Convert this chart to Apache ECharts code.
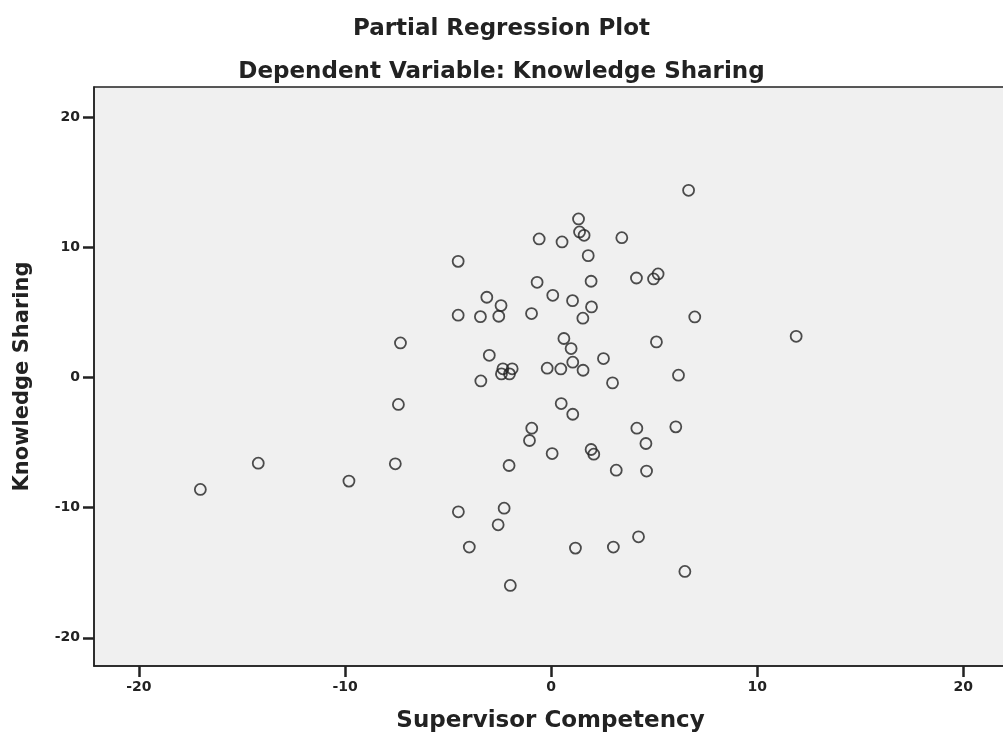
<!DOCTYPE html>
<html>
<head>
<meta charset="utf-8">
<title>Partial Regression Plot</title>
<script src="https://cdn.jsdelivr.net/npm/echarts@6/dist/echarts.min.js"></script>
<style>
  html, body {margin: 0; padding: 0; background: #fff; overflow: hidden;}
  #chart {width: 1003px; height: 736px;}
</style>
</head>
<body>
<div id="chart"></div>
<script>
  // values
  const supervisorCompetency = [
    6.67, 1.33, 1.38, 1.60, -0.58, 0.53, 3.43, -4.51, 1.80, -0.68,
    1.94, 4.14, 4.97, 5.19, -3.12, -2.43, 0.08, 1.04, 1.96, -4.51,
    -3.43, -2.54, -0.95, 1.54, 6.97, 0.62, 0.97, 5.11, -3.00, 2.54,
    -2.34, -1.89, -2.41, -2.02, -0.19, 0.47, 1.05, 1.55, 2.98, -3.41,
    6.18, 0.49, 1.05, -0.94, -1.05, 4.16, 6.05, 4.60, 0.05, 1.94,
    2.07, -2.04, 3.16, 4.63, -4.50, -2.28, -2.57, -3.97, 1.18, 3.02,
    4.24, 6.49, -1.98, -7.31, -7.41, -7.56, -14.21, -9.81, -17.02, 11.89
  ];
  const knowledgeSharing = [
    14.39, 12.19, 11.19, 10.93, 10.65, 10.42, 10.75, 8.93, 9.37, 7.32,
    7.40, 7.65, 7.58, 7.96, 6.17, 5.53, 6.32, 5.91, 5.43, 4.79,
    4.68, 4.71, 4.92, 4.56, 4.66, 3.00, 2.23, 2.74, 1.71, 1.46,
    0.67, 0.67, 0.28, 0.28, 0.72, 0.66, 1.18, 0.56, -0.41, -0.26,
    0.18, -2.00, -2.82, -3.89, -4.84, -3.89, -3.79, -5.07, -5.84, -5.53,
    -5.89, -6.76, -7.12, -7.19, -10.32, -10.04, -11.32, -13.03, -13.11, -13.03,
    -12.24, -14.90, -15.98, 2.66, -2.07, -6.63, -6.58, -7.96, -8.60, 3.17
  ];
  const xTicks = [-20, -10, 0, 10, 20];
  const yTicks = [-20, -10, 0, 10, 20];

  const points = supervisorCompetency.map((x, i) => [x, knowledgeSharing[i]]);
  const font = 'DejaVu Sans';
  const ink = '#222';

  const option = {
    animation: false,
    backgroundColor: '#fff',
    title: [
      {
        text: 'Partial Regression Plot',
        left: 'center',
        top: 13,
        textStyle: {fontFamily: font, fontWeight: 'bold', fontSize: 23, color: ink}
      },
      {
        text: 'Dependent Variable: Knowledge Sharing',
        left: 'center',
        top: 56,
        textStyle: {fontFamily: font, fontWeight: 'bold', fontSize: 23, color: ink}
      }
    ],
    // plot box runs past the right edge of the picture, so no right border shows
    grid: {
      left: 94,
      top: 87,
      width: 913,
      bottom: 70,
      outerBoundsMode: 'none',
      containLabel: false,
      show: true,
      backgroundColor: '#f0f0f0',
      borderColor: ink,
      borderWidth: 1.5
    },
    xAxis: {
      type: 'value',
      min: -22.18,
      max: 22.12,
      name: 'Supervisor Competency',
      nameLocation: 'middle',
      nameGap: 44,
      nameTextStyle: {fontFamily: font, fontWeight: 'bold', fontSize: 23, color: ink},
      axisLine: {show: true, onZero: false, lineStyle: {color: ink, width: 1.5}},
      axisTick: {show: true, customValues: xTicks, length: 11, lineStyle: {color: ink, width: 2.5}},
      axisLabel: {customValues: xTicks, margin: 14, fontFamily: font, fontWeight: 'bold', fontSize: 14, color: ink},
      splitLine: {show: false}
    },
    yAxis: {
      type: 'value',
      min: -22.17,
      max: 22.33,
      name: 'Knowledge Sharing',
      nameLocation: 'middle',
      nameGap: 61,
      nameTextStyle: {fontFamily: font, fontWeight: 'bold', fontSize: 21, color: ink},
      axisLine: {show: true, onZero: false, lineStyle: {color: ink, width: 1.5}},
      axisTick: {show: true, customValues: yTicks, length: 11, lineStyle: {color: ink, width: 2.5}},
      axisLabel: {customValues: yTicks, margin: 14, fontFamily: font, fontWeight: 'bold', fontSize: 14, color: ink},
      splitLine: {show: false}
    },
    series: [{
      type: 'scatter',
      data: points,
      symbol: 'circle',
      symbolSize: 11,
      itemStyle: {color: 'rgba(0,0,0,0)', borderColor: ink, borderWidth: 1.8},
      emphasis: {disabled: true}
    }]
  };

  echarts.init(document.getElementById('chart')).setOption(option);
</script>
</body>
</html>
